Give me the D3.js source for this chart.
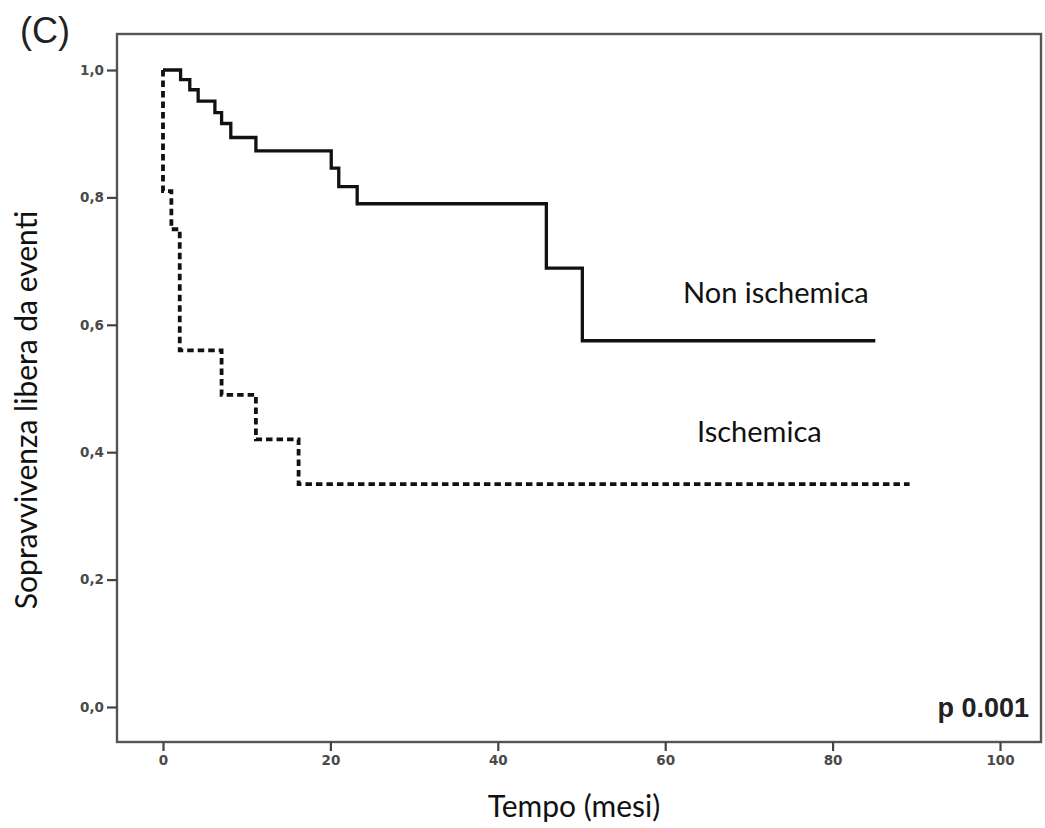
<!DOCTYPE html>
<html>
<head>
<meta charset="utf-8">
<script src="https://cdn.jsdelivr.net/npm/d3@7"></script>
<style>
  body { margin: 0; background: #fff; }
  svg { display: block; }
  .tick text { font-family: "DejaVu Sans", sans-serif; font-size: 13.5px; font-weight: bold; fill: #4a4a4a; }
  .tick line { stroke: #444; stroke-width: 2.2; }
  .lbl { font-family: Lato, sans-serif; font-size: 29px; fill: #111; }
</style>
</head>
<body>
<svg width="1045" height="828"></svg>
<script>
// Kaplan-Meier curves, values
var nonIschTime = [0, 2.1, 3.2, 4.2, 6.2, 7.0, 8.1, 11.1, 20.1, 21.0, 23.2, 45.8, 50.1, 85.1];
var nonIschSurv = [1.0, 0.985, 0.969, 0.951, 0.933, 0.916, 0.894, 0.873, 0.846, 0.817, 0.79, 0.689, 0.575, 0.575];

var ischTime = [0, 0, 1.0, 2.0, 7.0, 11.1, 16.2, 89.2];
var ischSurv = [1.0, 0.81, 0.75, 0.56, 0.49, 0.42, 0.35, 0.35];

var xTicks = [0, 20, 40, 60, 80, 100];
var yTicks = [0, 0.2, 0.4, 0.6, 0.8, 1.0];

var svg = d3.select("svg");

var frame = {left: 117, right: 1041, top: 34, bottom: 742};

var x = d3.scaleLinear().domain([0, 100]).range([163, 1000]);
var y = d3.scaleLinear().domain([0, 1]).range([707, 70]);

// frame box
svg.append("rect")
    .attr("x", frame.left)
    .attr("y", frame.top)
    .attr("width", frame.right - frame.left)
    .attr("height", frame.bottom - frame.top)
    .attr("fill", "none")
    .attr("stroke", "#555")
    .attr("stroke-width", 2.4);

var fmt = function(d) { return d3.format(".1f")(d).replace(".", ","); };

var yAxis = svg.append("g")
    .attr("transform", "translate(" + frame.left + ",0)")
    .call(d3.axisLeft(y).tickValues(yTicks).tickFormat(fmt).tickSize(10).tickPadding(3));
yAxis.select(".domain").remove();

var xAxis = svg.append("g")
    .attr("transform", "translate(0," + frame.bottom + ")")
    .call(d3.axisBottom(x).tickValues(xTicks).tickSize(9).tickPadding(4));
xAxis.select(".domain").remove();

var line = d3.line()
    .x(function(d) { return x(d[0]); })
    .y(function(d) { return y(d[1]); })
    .curve(d3.curveStepAfter);

svg.append("path")
    .datum(d3.zip(nonIschTime, nonIschSurv))
    .attr("d", line)
    .attr("fill", "none")
    .attr("stroke", "#111")
    .attr("stroke-width", 3.3);

svg.append("path")
    .datum(d3.zip(ischTime, ischSurv))
    .attr("d", line)
    .attr("fill", "none")
    .attr("stroke", "#111")
    .attr("stroke-width", 3.8)
    .attr("stroke-dasharray", "6.5,4");

// texts
svg.append("text")
    .attr("x", 20).attr("y", 43)
    .style("font-family", "Liberation Sans, Arial, sans-serif")
    .style("font-size", "36px")
    .attr("fill", "#222")
    .text("(C)");

svg.append("text")
    .attr("class", "lbl")
    .attr("transform", "translate(37,410) rotate(-90)")
    .attr("text-anchor", "middle")
    .style("font-size", "30px")
    .text("Sopravvivenza libera da eventi");

svg.append("text")
    .attr("class", "lbl")
    .attr("x", 574).attr("y", 817)
    .attr("text-anchor", "middle")
    .style("font-size", "30px")
    .text("Tempo (mesi)");

svg.append("text")
    .attr("class", "lbl")
    .attr("x", 683).attr("y", 303)
    .text("Non ischemica");

svg.append("text")
    .attr("class", "lbl")
    .attr("x", 697).attr("y", 442)
    .text("Ischemica");

svg.append("text")
    .attr("x", 1029).attr("y", 717)
    .attr("text-anchor", "end")
    .style("font-family", "Liberation Sans, Arial, sans-serif")
    .style("font-size", "27px")
    .style("font-weight", "bold")
    .attr("fill", "#222")
    .text("p 0.001");
</script>
</body>
</html>
